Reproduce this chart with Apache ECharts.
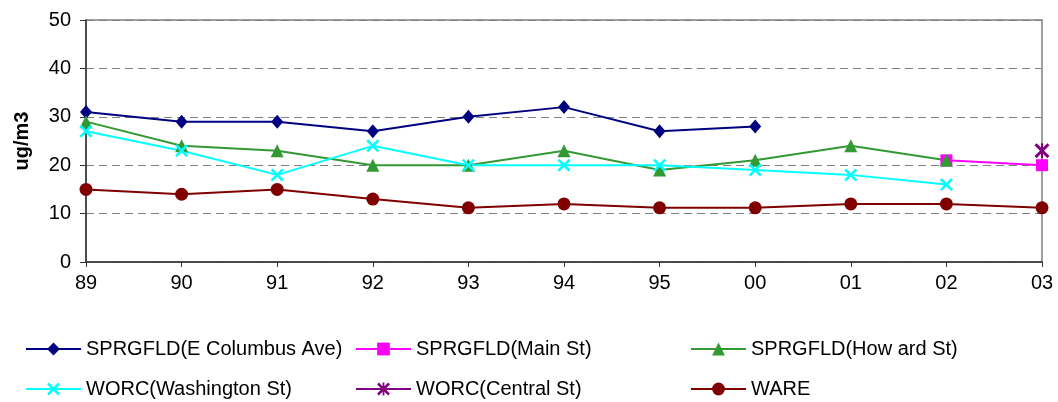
<!DOCTYPE html>
<html>
<head>
<meta charset="utf-8">
<script src="https://cdn.jsdelivr.net/npm/echarts@6/dist/echarts.min.js"></script>
<style>
  html, body { margin: 0; padding: 0; background: #fff; }
  #chart { width: 1058px; height: 402px; }
</style>
</head>
<body>
<div id="chart"></div>
<script>
const years = ["89", "90", "91", "92", "93", "94", "95", "00", "01", "02", "03"];

const eColumbus = [31, 29, 29, 27, 30, 32, 27, 28, null, null, null];
const mainSt = [null, null, null, null, null, null, null, null, null, 21, 20];
const howardSt = [29, 24, 23, 20, 20, 23, 19, 21, 24, 21, null];
const washingtonSt = [27, 23, 18, 24, 20, 20, 20, 19, 18, 16, null];
const centralSt = [null, null, null, null, null, null, null, null, null, null, 23];
const ware = [15, 14, 15, 13, 11.2, 12, 11.2, 11.2, 12, 12, 11.2];

const crossPath =
  "path://M1.4,0 L5,3.6 L8.6,0 L10,1.4 L6.4,5 L10,8.6 L8.6,10 L5,6.4 L1.4,10 L0,8.6 L3.6,5 L0,1.4 Z";
const starPath =
  "path://M1.4,0 L5,3.6 L8.6,0 L10,1.4 L6.4,5 L10,8.6 L8.6,10 L5,6.4 L1.4,10 L0,8.6 L3.6,5 L0,1.4 Z M4.3,0 L5.7,0 L5.7,10 L4.3,10 Z";

const font = "'Liberation Sans', Arial, sans-serif";

function makeSeries(name, data, color, symbol, size) {
  return {
    name: name,
    type: "line",
    data: data,
    symbol: symbol,
    symbolSize: size,
    showAllSymbol: true,
    connectNulls: false,
    lineStyle: { color: color, width: 2 },
    itemStyle: { color: color },
    emphasis: { disabled: true },
  };
}

const legendText = { color: "#000", fontSize: 20, fontFamily: font, lineHeight: 22 };

function makeLegend(names, left) {
  return {
    data: names,
    orient: "vertical",
    left: left,
    top: 338,
    itemWidth: 55,
    itemHeight: 16,
    itemGap: 18,
    padding: 0,
    textStyle: legendText,
    selectedMode: false,
  };
}

const chart = echarts.init(document.getElementById("chart"));
chart.setOption({
  animation: false,
  backgroundColor: "#fff",
  grid: {
    left: 86,
    right: 16,
    top: 20,
    bottom: 140,
    show: true,
    borderColor: "#808080",
    borderWidth: 1.5,
  },
  legend: [
    makeLegend(["SPRGFLD(E Columbus Ave)", "WORC(Washington St)"], 25),
    makeLegend(["SPRGFLD(Main St)", "WORC(Central St)"], 355),
    makeLegend(["SPRGFLD(How ard St)", "WARE"], 690),
  ],
  xAxis: {
    type: "category",
    data: years,
    boundaryGap: false,
    axisLine: { lineStyle: { color: "#333", width: 1.5 } },
    axisTick: { show: true, length: 5, alignWithLabel: true, lineStyle: { color: "#333" } },
    axisLabel: { color: "#000", fontSize: 20, fontFamily: font, margin: 11 },
    splitLine: { show: false },
  },
  yAxis: {
    type: "value",
    min: 0,
    max: 50,
    interval: 10,
    name: "ug/m3",
    nameLocation: "middle",
    nameGap: 54,
    nameTextStyle: { color: "#000", fontSize: 20, fontWeight: "bold", fontFamily: font },
    axisLine: { show: true, lineStyle: { color: "#333", width: 1.5 } },
    axisTick: { show: true, length: 6, lineStyle: { color: "#333" } },
    axisLabel: { color: "#000", fontSize: 20, fontFamily: font, margin: 15 },
    splitLine: { show: true, lineStyle: { color: "#808080", type: [8, 5], width: 1 } },
  },
  series: [
    makeSeries("SPRGFLD(E Columbus Ave)", eColumbus, "#000080", "diamond", [12, 14]),
    makeSeries("SPRGFLD(Main St)", mainSt, "#FF00FF", "rect", 12),
    makeSeries("SPRGFLD(How ard St)", howardSt, "#339933", "triangle", 13),
    makeSeries("WORC(Washington St)", washingtonSt, "#00FFFF", crossPath, 13),
    makeSeries("WORC(Central St)", centralSt, "#800080", starPath, 15),
    makeSeries("WARE", ware, "#800000", "circle", 13),
  ],
});
</script>
</body>
</html>
